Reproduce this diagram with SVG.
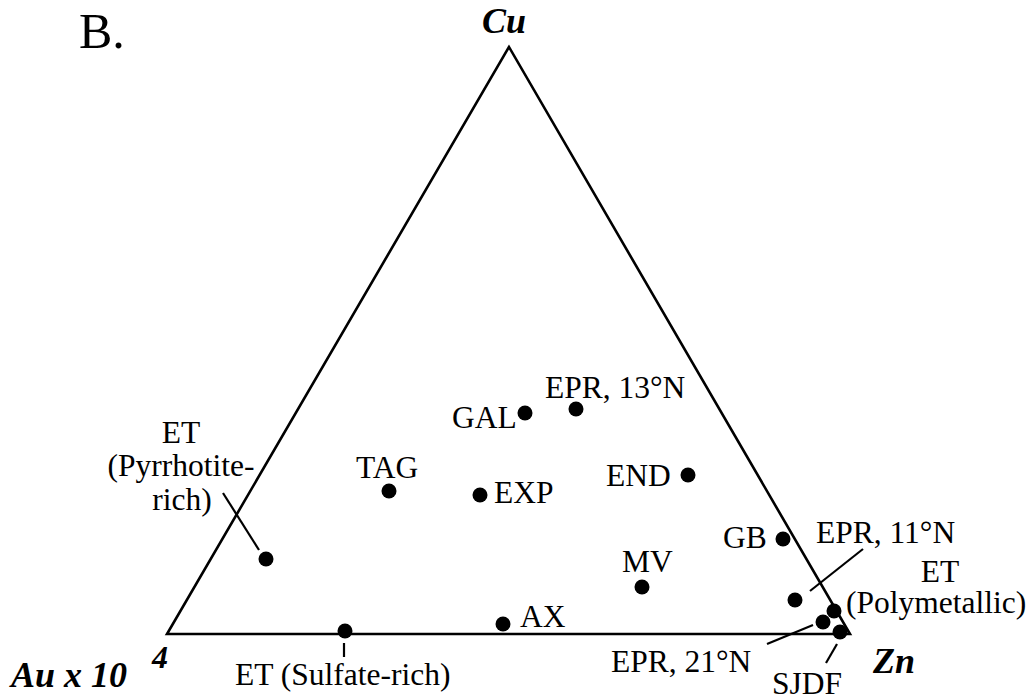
<svg xmlns="http://www.w3.org/2000/svg" width="1035" height="700" viewBox="0 0 1035 700">
<style>
.lbl{font-family:"Liberation Serif","Times New Roman",serif;font-size:31.5px;fill:#000}
.ax{font-family:"Liberation Serif","Times New Roman",serif;font-size:36px;font-weight:bold;font-style:italic;fill:#000}
.ttl{font-family:"Liberation Serif","Times New Roman",serif;font-size:50px;fill:#000}
.dot{fill:#000}
.ld{stroke:#000;stroke-width:2.2;fill:none}
.tri{stroke:#000;stroke-width:2.6;fill:none;stroke-linejoin:miter}
</style>
<rect width="1035" height="700" fill="#fff"/>
<text class="ttl" x="79" y="48">B.</text>
<g id="frame">
<polygon class="tri" points="509,47 167,634 850,634"/>
<text class="ax" x="504" y="33" text-anchor="middle">Cu</text>
<text class="ax" x="873" y="673">Zn</text>
<text class="ax" x="11" y="687">Au x 10</text>
<text class="ax" x="152" y="668" style="font-size:32px">4</text>
</g>
<g id="connectors">
<line class="ld" x1="223" y1="493" x2="259" y2="550"/>
<line class="ld" x1="344" y1="643" x2="344" y2="657"/>
<line class="ld" x1="863" y1="549" x2="810" y2="591"/>
<line class="ld" x1="813" y1="625" x2="767" y2="644"/>
<line class="ld" x1="837" y1="644" x2="826" y2="663"/>
</g>
<g id="ET-pyrrhotite"><circle class="dot" cx="266" cy="559" r="7.5"/>
<text class="lbl" x="181" y="443" text-anchor="middle">ET</text>
<text class="lbl" x="181" y="476" text-anchor="middle">(Pyrrhotite-</text>
<text class="lbl" x="182" y="510" text-anchor="middle">rich)</text></g>
<g id="TAG"><circle class="dot" cx="389" cy="491" r="7.5"/><text class="lbl" x="356" y="478">TAG</text></g>
<g id="EXP"><circle class="dot" cx="480" cy="495" r="7.5"/><text class="lbl" x="494" y="503">EXP</text></g>
<g id="GAL"><circle class="dot" cx="525" cy="413" r="7.5"/><text class="lbl" x="452" y="428">GAL</text></g>
<g id="EPR13"><circle class="dot" cx="576" cy="409" r="7.5"/><text class="lbl" x="545" y="398">EPR, 13°N</text></g>
<g id="END"><circle class="dot" cx="688" cy="475" r="7.5"/><text class="lbl" x="606" y="486">END</text></g>
<g id="GB"><circle class="dot" cx="783" cy="539" r="7.5"/><text class="lbl" x="723" y="548">GB</text></g>
<g id="MV"><circle class="dot" cx="642" cy="587" r="7.5"/><text class="lbl" x="622" y="572">MV</text></g>
<g id="AX"><circle class="dot" cx="503" cy="624" r="7.5"/><text class="lbl" x="520" y="627">AX</text></g>
<g id="ET-sulfate"><circle class="dot" cx="345" cy="631" r="7.5"/><text class="lbl" x="235" y="685">ET (Sulfate-rich)</text></g>
<g id="EPR11"><circle class="dot" cx="795" cy="600" r="7.5"/><text class="lbl" x="816" y="543">EPR, 11°N</text></g>
<g id="ET-polymetallic"><circle class="dot" cx="834" cy="611" r="7.5"/>
<text class="lbl" x="940" y="582" text-anchor="middle">ET</text>
<text class="lbl" x="846" y="613">(Polymetallic)</text></g>
<g id="EPR21"><circle class="dot" cx="823" cy="622" r="7.5"/><text class="lbl" x="611" y="672">EPR, 21°N</text></g>
<g id="SJDF"><circle class="dot" cx="840" cy="632" r="7.5"/><text class="lbl" x="772" y="694">SJDF</text></g>
</svg>
